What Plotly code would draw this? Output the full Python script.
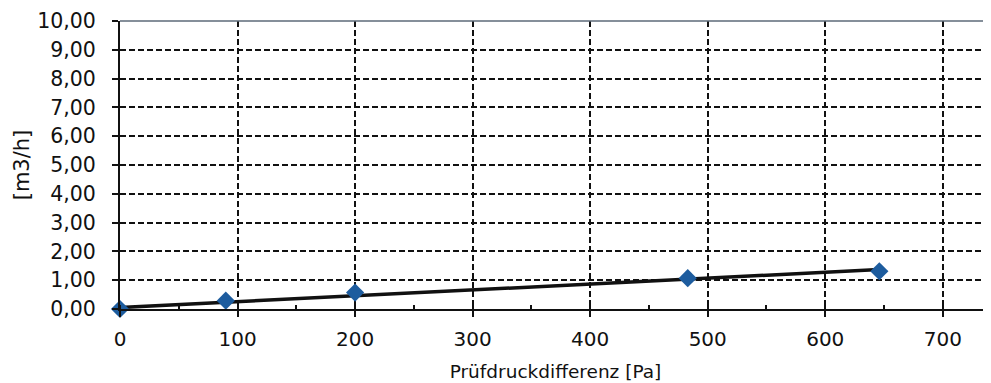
import plotly.graph_objects as go

# Data
pressure_pa = [0, 90, 200, 483, 646]
flow_m3h = [0.0, 0.29, 0.57, 1.07, 1.31]
trend_x = [0, 646]
trend_y = [0.05, 1.37]

x_title = "Prüfdruckdifferenz [Pa]"
y_title = "[m3/h]"

fig = go.Figure()
fig.add_trace(go.Scatter(
    x=trend_x, y=trend_y, mode="lines",
    line=dict(color="#111111", width=3.5),
    showlegend=False, hoverinfo="skip",
))
fig.add_trace(go.Scatter(
    x=pressure_pa, y=flow_m3h, mode="markers",
    marker=dict(symbol="diamond", size=14, color="#1d5c9e",
                line=dict(width=0)),
    showlegend=False, cliponaxis=False,
))

# page body has an 8px default margin, so the figure is sized/offset to compensate
fig.update_layout(
    width=983, height=375,
    margin=dict(l=112, r=0, t=13, b=74, autoexpand=False),
    paper_bgcolor="white", plot_bgcolor="white",
    separators=",.",
    font=dict(family="DejaVu Sans", color="#111111"),
    shapes=[dict(type="line", xref="paper", yref="paper", x0=0, x1=1, y0=1, y1=1,
                 line=dict(color="#5d6a78", width=1.5), layer="above")],
)
fig.update_xaxes(
    range=[0, 741], dtick=100, tick0=0,
    showgrid=True, gridcolor="#111111", gridwidth=2, griddash="6px,3px",
    showline=True, linecolor="#111111", linewidth=2, zeroline=False,
    ticks="outside", ticklen=6, tickwidth=2, tickcolor="#111111",
    minor=dict(dtick=50, ticks="inside", ticklen=4, tickwidth=2, tickcolor="#111111", showgrid=False),
    tickfont=dict(size=20), ticklabelstandoff=5,
    title=dict(text=x_title, font=dict(size=18.5), standoff=15),
    automargin=False, fixedrange=True,
)
fig.update_yaxes(
    range=[0, 10], dtick=1, tick0=0, tickformat=".2f",
    showgrid=True, gridcolor="#111111", gridwidth=2, griddash="6px,3px",
    showline=True, linecolor="#111111", linewidth=2, zeroline=False,
    ticks="outside", ticklen=6, tickwidth=2, tickcolor="#111111",
    tickfont=dict(size=20.5), ticklabelstandoff=12,
    title=dict(text=y_title, font=dict(size=21), standoff=2),
    automargin=False, fixedrange=True,
)

fig.write_html("out.html")
